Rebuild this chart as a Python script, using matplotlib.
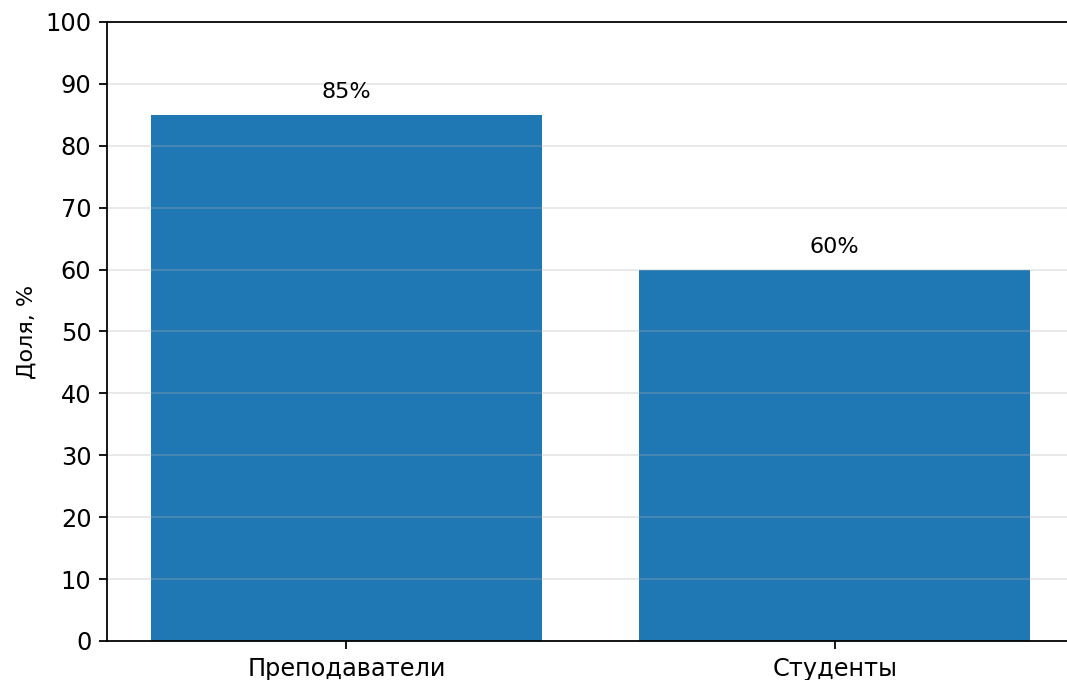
import matplotlib
matplotlib.use('Agg')
import matplotlib.pyplot as plt

# данные
groups = ['Преподаватели', 'Студенты']
shares = [85, 60]
yticks = list(range(0, 101, 10))

fig = plt.figure(figsize=(1067/160, 680/160), dpi=160)
ax = fig.add_axes([0.1003, 0.0574, 0.9063, 0.9103])

bars = ax.bar(groups, shares, color='#1f77b4')
for b, v in zip(bars, shares):
    ax.text(b.get_x() + b.get_width()/2, v + 2, f'{v}%', ha='center', va='bottom', fontsize=10)

ax.set_ylim(0, 100)
ax.set_yticks(yticks)
ax.tick_params(labelsize=10.8)
ax.set_ylabel('Доля, %')
ax.grid(axis='y', alpha=0.3)

fig.savefig('out.png', dpi=160)
